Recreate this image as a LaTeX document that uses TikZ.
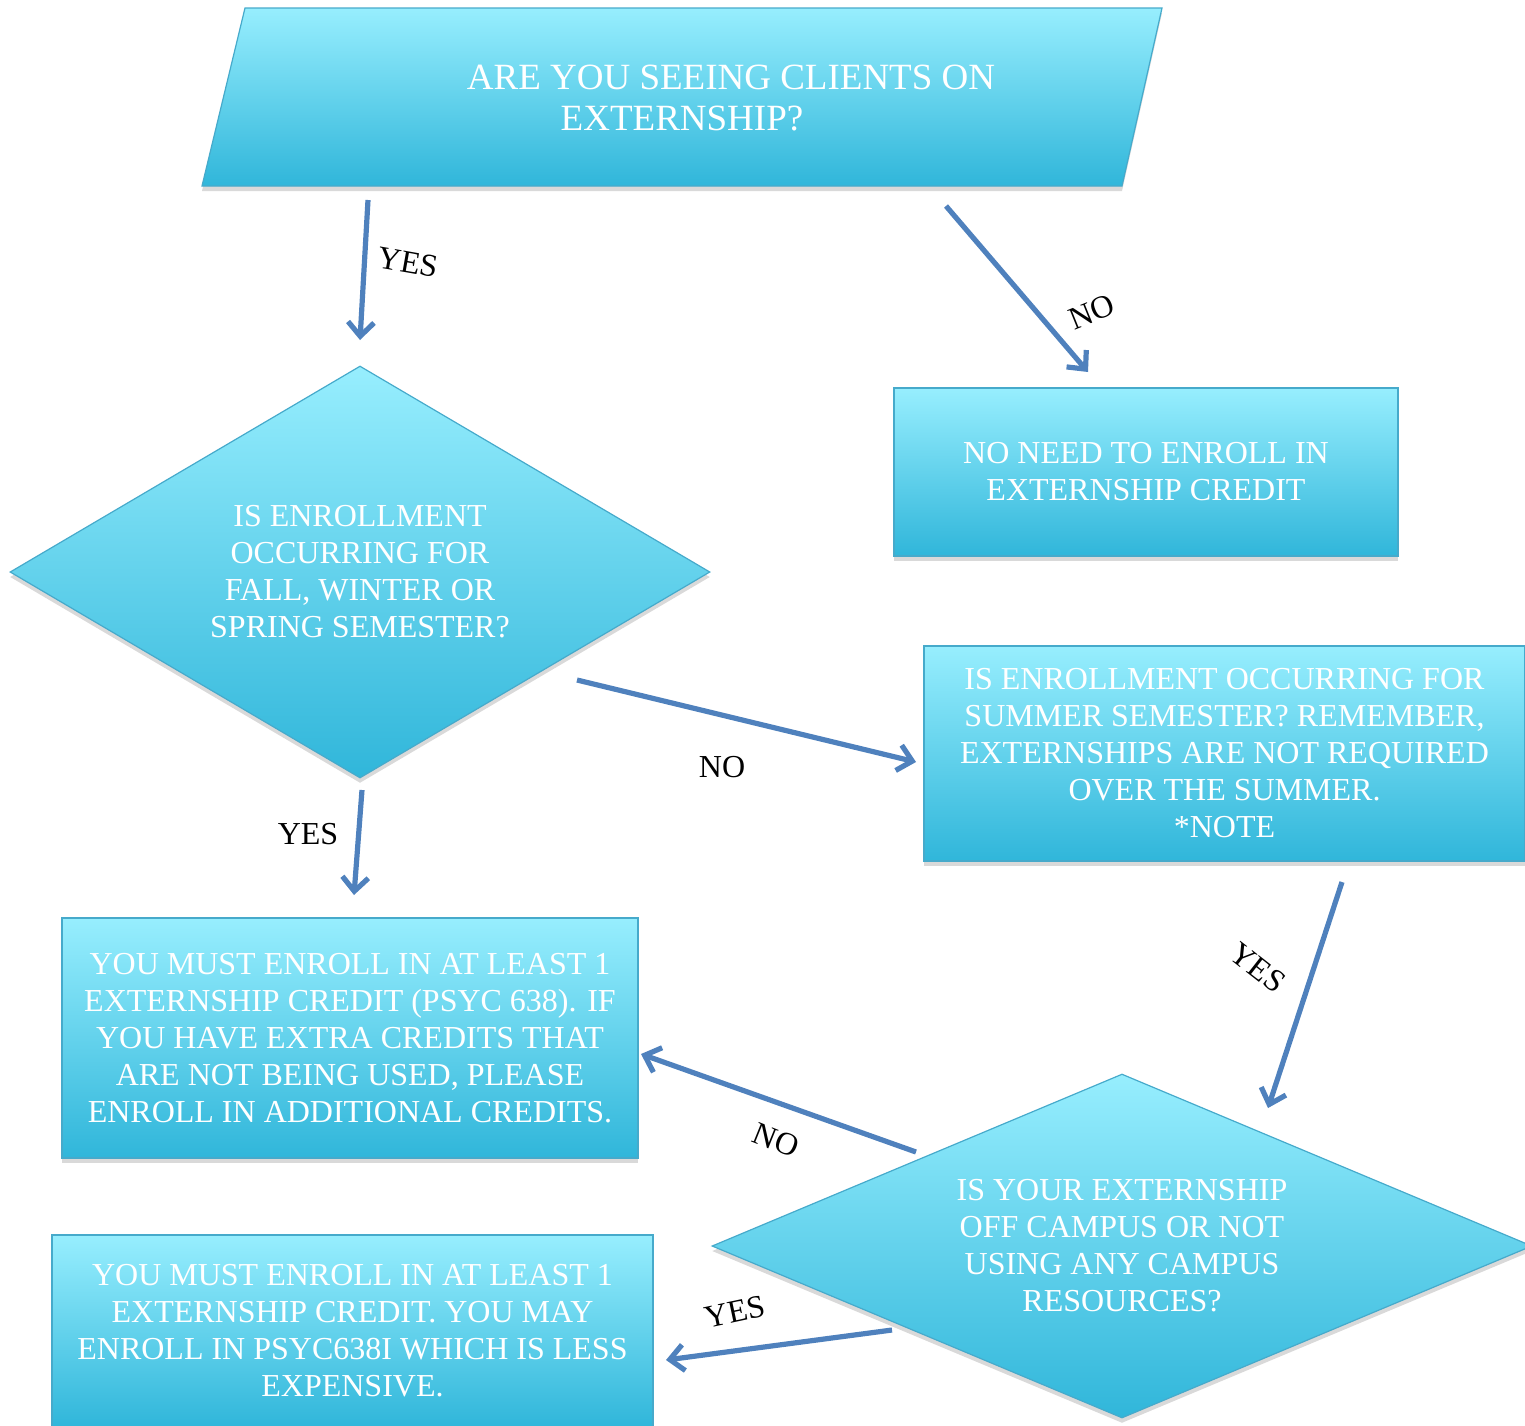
\documentclass[tikz,border=0pt]{standalone}
\usepackage{fontspec}
\setmainfont{Liberation Serif}
\usetikzlibrary{arrows.meta,shapes.geometric,shadows}
\definecolor{ctop}{HTML}{97EEFE}
\definecolor{cbot}{HTML}{30B6DA}
\definecolor{cedge}{HTML}{46AACB}
\definecolor{ablue}{HTML}{4F81BD}
\begin{document}
\begin{tikzpicture}[x=0.5pt,y=-0.5pt,
 shadowed/.style={drop shadow={shadow xshift=0pt, shadow yshift=-2.5pt, opacity=0.3}},
 flow/.style={draw=cedge, line width=0.6pt, top color=ctop, bottom color=cbot, text=white, align=center, font=\fontsize{16}{18.5}\selectfont, inner sep=0pt, shadowed},
 boxnode/.style={flow, rectangle},
 decision/.style={flow, diamond, aspect=2},
 link/.style={draw=ablue, line width=2.6pt, -{Straight Barb[length=7pt,width=13pt]}},
 lab/.style={font=\fontsize{16}{18}\selectfont, text=black, inner sep=0pt}]
\useasboundingbox (0,0) rectangle (1525,1425);

% top parallelogram
\path[draw=cedge, line width=0.6pt, top color=ctop, bottom color=cbot, shadowed]
  (245,8) -- (1162,8) -- (1122,186) -- (202,186) -- cycle;
\node[text=white, align=center, font=\fontsize{18.5}{20.5}\selectfont, inner sep=0pt] (q1) at (731,98)
  {ARE YOU SEEING CLIENTS ON\\EXTERNSHIP?\hspace*{49pt}};

\node[boxnode, minimum width=252pt, minimum height=84pt] (noneed) at (1146,472)
  {NO NEED TO ENROLL IN\\EXTERNSHIP CREDIT};
\node[decision, minimum width=350pt, minimum height=206pt] (d1) at (360,572)
  {IS ENROLLMENT\\OCCURRING FOR\\FALL, WINTER OR\\SPRING SEMESTER?};
\node[boxnode, minimum width=300.5pt, minimum height=107.5pt] (summer) at (1224.5,753.5)
  {IS ENROLLMENT OCCURRING FOR\\SUMMER SEMESTER? REMEMBER,\\EXTERNSHIPS ARE NOT REQUIRED\\OVER THE SUMMER.\\*NOTE};
\node[boxnode, minimum width=288pt, minimum height=120pt] (must1) at (350,1038)
  {YOU MUST ENROLL IN AT LEAST 1\\EXTERNSHIP CREDIT (PSYC 638). IF\\YOU HAVE EXTRA CREDITS THAT\\ARE NOT BEING USED, PLEASE\\ENROLL IN ADDITIONAL CREDITS.};
\node[decision, minimum width=410pt, minimum height=172pt] (d2) at (1122,1246)
  {IS YOUR EXTERNSHIP\\OFF CAMPUS OR NOT\\USING ANY CAMPUS\\RESOURCES?};
\node[boxnode, minimum width=300.5pt, minimum height=96pt] (must2) at (352.5,1331)
  {YOU MUST ENROLL IN AT LEAST 1\\EXTERNSHIP CREDIT. YOU MAY\\ENROLL IN PSYC638I WHICH IS LESS\\EXPENSIVE.};

% connector end points
\coordinate (a1s) at (368,200);  \coordinate (a1e) at (360,340);
\coordinate (a2s) at (946,206);  \coordinate (a2e) at (1088,372);
\coordinate (a3s) at (577,680);  \coordinate (a3e) at (916,762);
\coordinate (a4s) at (362,790);  \coordinate (a4e) at (354,895);
\coordinate (a5s) at (1342,882); \coordinate (a5e) at (1268,1108);
\coordinate (a6s) at (916,1152); \coordinate (a6e) at (641,1054);
\coordinate (a7s) at (892,1330); \coordinate (a7e) at (666,1360);

\draw[link] (a1s) -- (a1e);
\draw[link] (a2s) -- (a2e);
\draw[link] (a3s) -- (a3e);
\draw[link] (a4s) -- (a4e);
\draw[link] (a5s) -- (a5e);
\draw[link] (a6s) -- (a6e);
\draw[link] (a7s) -- (a7e);

\node[lab, rotate=-10] (l1) at (408,262) {YES};
\node[lab, rotate=22] (l2) at (1092,312) {NO};
\node[lab] (l3) at (722,767) {NO};
\node[lab] (l4) at (308,834) {YES};
\node[lab, rotate=-38] (l5) at (1258,968) {YES};
\node[lab, rotate=-22] (l6) at (776,1140) {NO};
\node[lab, rotate=12] (l7) at (735,1312) {YES};
\end{tikzpicture}
\end{document}
